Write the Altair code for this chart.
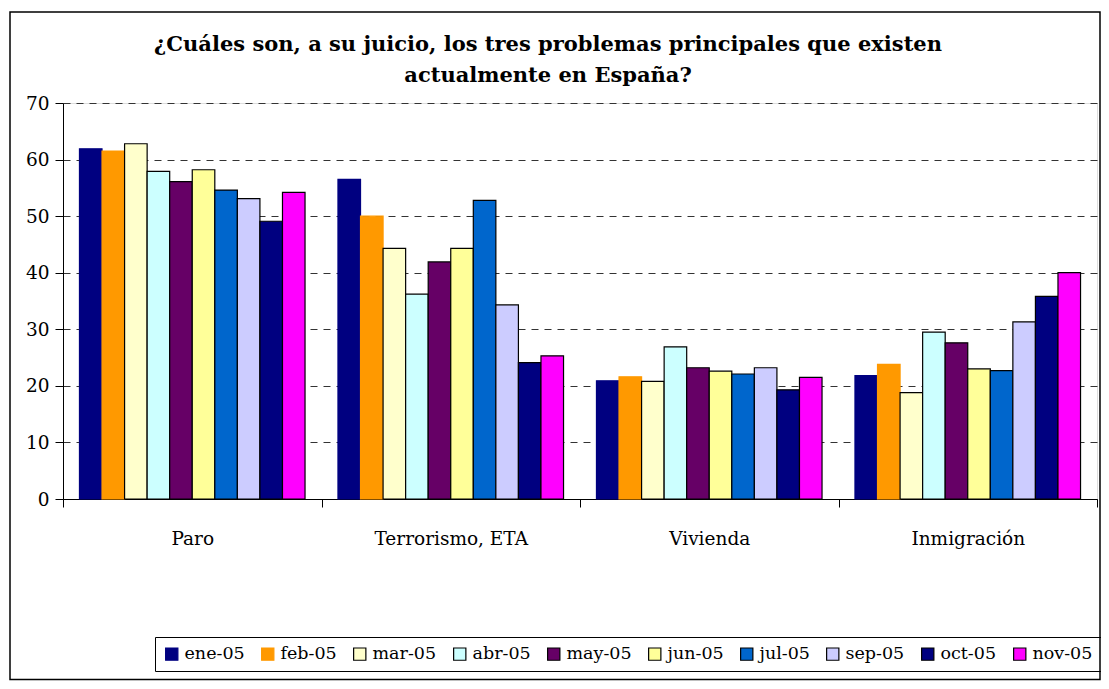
import altair as alt
import pandas as pd

categories = ["Paro", "Terrorismo, ETA", "Vivienda", "Inmigración"]
months = ["ene-05", "feb-05", "mar-05", "abr-05", "may-05", "jun-05", "jul-05", "sep-05", "oct-05", "nov-05"]
colors = ["#000080", "#FF9900", "#FFFFCC", "#CCFFFF", "#660066", "#FFFF99", "#0066CC", "#CCCCFF", "#000080", "#FF00FF"]
strokes = ["#000080", "#FF9900", "#000000", "#000000", "#000000", "#000000", "#000000", "#000000", "#000000", "#000000"]

paro = [61.9, 61.5, 62.8, 57.9, 56.1, 58.2, 54.6, 53.1, 49.1, 54.2]
terrorismo = [56.5, 50.0, 44.3, 36.2, 41.9, 44.3, 52.8, 34.3, 24.1, 25.3]
vivienda = [20.9, 21.6, 20.8, 26.9, 23.2, 22.6, 22.1, 23.2, 19.3, 21.5]
inmigracion = [21.8, 23.8, 18.8, 29.5, 27.6, 23.0, 22.7, 31.3, 35.8, 40.0]

title_lines = ["¿Cuáles son, a su juicio, los tres problemas principales que existen",
               "actualmente en España?"]

series = [paro, terrorismo, vivienda, inmigracion]
rows = []
for cat, vals in zip(categories, series):
    for m, v in zip(months, vals):
        rows.append({"problema": cat, "mes": m, "valor": v})
df = pd.DataFrame(rows)
one = pd.DataFrame({"k": [0]})

FONT = "DejaVu Serif"
LBL = 18.5

bars = alt.Chart(df).mark_bar(strokeWidth=1.2).encode(
    x=alt.X("problema:N", sort=categories, title=None,
            scale=alt.Scale(paddingInner=0, paddingOuter=0),
            axis=alt.Axis(labelAngle=0, tickBand="extent", tickSize=8, labelPadding=22,
                          labelFont=FONT, labelFontSize=LBL, labelColor="#000",
                          domainColor="#000", tickColor="#000", grid=False)),
    xOffset=alt.XOffset("mes:N", sort=months, scale=alt.Scale(paddingInner=0, paddingOuter=0.73)),
    y=alt.Y("valor:Q", title=None,
            scale=alt.Scale(domain=[0, 70], nice=False),
            axis=alt.Axis(values=[0, 10, 20, 30, 40, 50, 60, 70], tickSize=8, labelPadding=6,
                          labelFont=FONT, labelFontSize=LBL, labelColor="#000",
                          domainColor="#000", tickColor="#000",
                          grid=True, gridColor="#333", gridDash=[7, 6], gridWidth=1)),
    fill=alt.Fill("mes:N", sort=months, scale=alt.Scale(domain=months, range=colors),
                  legend=alt.Legend(title=None, orient="none", legendX=92, legendY=534,
                                    direction="horizontal", columns=10, symbolType="square",
                                    symbolSize=150, symbolStrokeColor="#000", symbolStrokeWidth=1.2,
                                    labelFont=FONT, labelFontSize=17.5, labelColor="#000",
                                    columnPadding=14, symbolOffset=0, labelOffset=4,
                                    strokeColor="#000", padding=8, cornerRadius=0)),
    stroke=alt.Stroke("mes:N", sort=months, scale=alt.Scale(domain=months, range=strokes), legend=None),
)

frame = alt.Chart(one).mark_rect(fill=None, stroke="#000", strokeWidth=1.5).encode(
    x=alt.value(-53), x2=alt.value(1037), y=alt.value(-91), y2=alt.value(576.5)
)

title1 = alt.Chart(one).mark_text(font=FONT, fontSize=21, fontWeight="bold", color="#000",
                                  align="center", baseline="alphabetic").encode(
    x=alt.value(485), y=alt.value(-52), text=alt.value(title_lines[0])
)
title2 = alt.Chart(one).mark_text(font=FONT, fontSize=21, fontWeight="bold", color="#000",
                                  align="center", baseline="alphabetic").encode(
    x=alt.value(485), y=alt.value(-21), text=alt.value(title_lines[1])
)

chart = alt.layer(frame, title1, title2, bars).properties(
    width=1034, height=396,
    autosize=alt.AutoSizeParams(type="none"),
    padding={"left": 55, "top": 95, "right": 4, "bottom": 182},
).configure_view(stroke="#000", strokeWidth=1.5).configure(background="white")

chart.save("out.html", embed_options={"renderer": "svg", "actions": False})
